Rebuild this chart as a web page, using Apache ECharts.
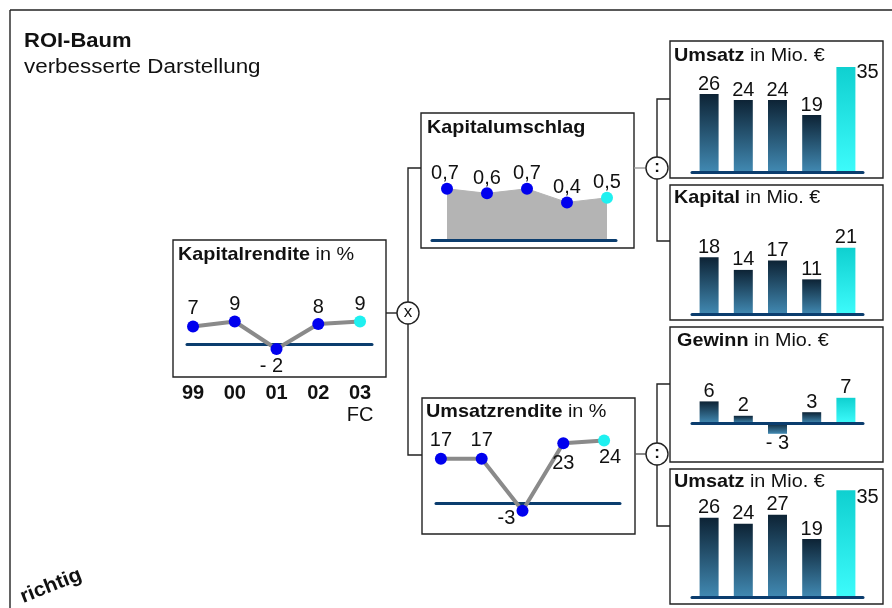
<!DOCTYPE html>
<html>
<head>
<meta charset="utf-8">
<script src="https://cdn.jsdelivr.net/npm/echarts@6/dist/echarts.min.js"></script>
<style>html,body{margin:0;padding:0;background:#fff}#c{width:892px;height:608px}</style>
</head>
<body>
<div id="c"></div>
<script>
// ---------- data ----------
const years = ['99', '00', '01', '02', '03'];
const forecastTag = 'FC';
const kapitalrendite = [7, 9, -2, 8, 9];
const kapitalumschlag = [0.7, 0.6, 0.7, 0.4, 0.5];
const umsatzrendite = [17, 17, -3, 23, 24];
const umsatzTop = [26, 24, 24, 19, 35];
const kapital = [18, 14, 17, 11, 21];
const gewinn = [6, 2, -3, 3, 7];
const umsatzBottom = [26, 24, 27, 19, 35];

// ---------- styles ----------
const FONT = "'Liberation Sans', Arial, sans-serif";
const LBL = 20;
const BLUE = '#0000ee', CYAN = '#1ff0f0';
const AXIS_BLUE = '#0b3d6e';
const last = years.length - 1;
const barGrad = () => new echarts.graphic.LinearGradient(0, 0, 0, 1, [{offset: 0, color: '#0d2335'}, {offset: 1, color: '#4189b2'}]);
const fcGrad = () => new echarts.graphic.LinearGradient(0, 0, 0, 1, [{offset: 0, color: '#0fd0d0'}, {offset: 1, color: '#3dfbfb'}]);

const krOffsets = [[0, -18], [0, -17], [-5, 17], [0, -17], [0, -17]];
const kuOffsets = [[-2, -15], [0, -15], [0, -15], [0, -15], [0, -15]];
const urOffsets = [[0, -18], [0, -18], [-16, 8], [0, 20], [6, 17]];

const signFmt = v => (v < 0 ? '- ' + Math.abs(v) : String(v));

function lineData(vals, offsets, fmt) {
  return vals.map((v, i) => ({
    value: [i, v],
    itemStyle: {color: i === last ? CYAN : BLUE},
    label: {offset: offsets[i], formatter: () => fmt(v)}
  }));
}
function barData(vals, fmt) {
  return vals.map((v, i) => {
    const lab = {formatter: () => fmt(v), position: v < 0 ? 'bottom' : 'top'};
    return {value: v, itemStyle: {color: i === last ? fcGrad() : barGrad()}, label: lab};
  });
}

const lineLabel = {show: true, position: 'inside', color: '#111', fontSize: LBL, fontFamily: FONT};
const barLabel = {show: true, color: '#111', fontSize: LBL, fontFamily: FONT, distance: 0};

function valueX(gi, min, max, extra) {
  return Object.assign({
    type: 'value', gridIndex: gi, min: min, max: max,
    axisLine: {show: true, onZero: true, lineStyle: {color: AXIS_BLUE, width: 3}},
    axisTick: {show: false}, axisLabel: {show: false}, splitLine: {show: false}
  }, extra || {});
}
function catX(gi) {
  return {
    type: 'category', gridIndex: gi, data: years, boundaryGap: true,
    axisLine: {show: true, onZero: true, lineStyle: {color: AXIS_BLUE, width: 3}},
    axisTick: {show: false}, axisLabel: {show: false}, splitLine: {show: false}, z: 3
  };
}
function valY(gi, min, max) {
  return {type: 'value', gridIndex: gi, min: min, max: max, show: false, splitLine: {show: false}};
}

// ---------- decorations ----------
const STROKE = '#222';
function rect(x, y, w, h) {
  return {type: 'rect', silent: true, shape: {x: x, y: y, width: w, height: h}, style: {fill: 'none', stroke: STROKE, lineWidth: 1.4}};
}
function seg(x1, y1, x2, y2, color) {
  return {type: 'line', silent: true, shape: {x1: x1, y1: y1, x2: x2, y2: y2}, style: {stroke: color || STROKE, lineWidth: 1.4}};
}
function poly(points, color) {
  return {type: 'polyline', silent: true, shape: {points: points}, style: {stroke: color || STROKE, lineWidth: 1.4, fill: 'none'}};
}
function op(cx, cy, sym, weight) {
  return [
    {type: 'circle', silent: true, z: 10, shape: {cx: cx, cy: cy, r: 11}, style: {fill: '#fff', stroke: STROKE, lineWidth: 1.4}},
    {type: 'text', silent: true, z: 11, x: cx, y: cy - 1, style: {text: sym, font: weight + ' 17px ' + FONT, fill: '#111', align: 'center', verticalAlign: 'middle'}}
  ];
}
function title(x, y, bold, rest, size, sx) {
  return {
    type: 'text', silent: true, x: x, y: y, scaleX: sx,
    style: {
      text: '{b|' + bold + '}' + (rest ? '{r|' + rest + '}' : ''),
      verticalAlign: 'middle', align: 'left',
      rich: {
        b: {fontWeight: 'bold', fontSize: size, fontFamily: FONT, fill: '#111'},
        r: {fontWeight: 'normal', fontSize: size, fontFamily: FONT, fill: '#111'}
      }
    }
  };
}

const graphics = [
  seg(10, 10, 892, 10), seg(10, 10, 10, 608),
  title(24, 41, 'ROI-Baum', '', 20, 1.1),
  {type: 'text', silent: true, x: 24, y: 67, scaleX: 1.12, style: {text: 'verbesserte Darstellung', font: '20px ' + FONT, fill: '#111', verticalAlign: 'middle'}},
  {type: 'text', silent: true, x: 51, y: 586, rotation: 0.38, scaleX: 1.05, style: {text: 'richtig', font: 'bold 20px ' + FONT, fill: '#111', align: 'center', verticalAlign: 'middle'}},
  // panels
  rect(173, 240, 213, 137),
  rect(421, 113, 213, 135),
  rect(422, 398, 213, 136),
  rect(670, 41, 213, 137),
  rect(670, 185, 213, 135),
  rect(670, 327, 213, 135),
  rect(670, 469, 213, 135),
  title(178, 255, 'Kapitalrendite', ' in %', 18.5, 1.07),
  title(427, 128, 'Kapitalumschlag', '', 18.5, 1.07),
  title(426, 412, 'Umsatzrendite', ' in %', 18.5, 1.07),
  title(674, 56, 'Umsatz', ' in Mio. \u20ac', 18.5, 1.07),
  title(674, 198, 'Kapital', ' in Mio. \u20ac', 18.5, 1.07),
  title(677, 341, 'Gewinn', ' in Mio. \u20ac', 18.5, 1.07),
  title(674, 482, 'Umsatz', ' in Mio. \u20ac', 18.5, 1.07),
  // connectors
  seg(386, 313, 398, 313),
  poly([[421, 168], [408, 168], [408, 455], [422, 455]]),
  seg(634, 168, 647, 168, '#999'),
  poly([[670, 99], [657, 99], [657, 241], [670, 241]]),
  seg(635, 454, 647, 454, '#555'),
  poly([[670, 384], [657, 384], [657, 526], [670, 526]])
].concat(op(408, 313, 'x', 'normal'), op(657, 168, ':', 'bold'), op(657, 454, ':', 'bold'));

const option = {
  animation: false,
  backgroundColor: '#fff',
  textStyle: {fontFamily: FONT},
  graphic: graphics,
  grid: [
    {left: 187, top: 319, width: 185, height: 35},
    {left: 432, top: 175.2, width: 184, height: 64.8},
    {left: 436, top: 438, width: 184, height: 78},
    {left: 692, top: 52, width: 171, height: 120},
    {left: 692, top: 235.25, width: 171, height: 78.75},
    {left: 692, top: 387, width: 171, height: 54},
    {left: 692, top: 475, width: 171, height: 122}
  ],
  xAxis: [
    valueX(0, -0.144, 4.287, {
      axisLabel: {
        show: true, margin: 28, customValues: [0, 1, 2, 3, 4],
        formatter: v => (v === last ? '{b|' + years[v] + '}\n{r|' + forecastTag + '}' : '{b|' + years[v] + '}'),
        rich: {
          b: {fontWeight: 'bold', fontSize: LBL, fontFamily: FONT, color: '#111', lineHeight: 22},
          r: {fontWeight: 'normal', fontSize: LBL, fontFamily: FONT, color: '#111', lineHeight: 22}
        }
      }
    }),
    valueX(1, -0.375, 4.225, {z: 5, axisLine: {show: true, onZero: false, lineStyle: {color: AXIS_BLUE, width: 3}}}),
    valueX(2, -0.12, 4.39),
    catX(3), catX(4), catX(5), catX(6)
  ],
  yAxis: [
    valY(0, -4, 10), valY(1, -0.43, 1), valY(2, -5, 25),
    valY(3, 0, 40), valY(4, 0, 25), valY(5, -5, 10), valY(6, 0, 40)
  ],
  series: [
    {
      type: 'line', xAxisIndex: 0, yAxisIndex: 0, symbol: 'circle', symbolSize: 12,
      lineStyle: {color: '#8a8a8a', width: 4}, label: lineLabel,
      data: lineData(kapitalrendite, krOffsets, signFmt)
    },
    {
      type: 'line', xAxisIndex: 1, yAxisIndex: 1, symbol: 'circle', symbolSize: 12,
      lineStyle: {color: '#b4b4b4', width: 1}, areaStyle: {color: '#b4b4b4', opacity: 1, origin: 'start'},
      label: lineLabel,
      data: lineData(kapitalumschlag, kuOffsets, v => v.toFixed(1).replace('.', ','))
    },
    {
      type: 'line', xAxisIndex: 2, yAxisIndex: 2, symbol: 'circle', symbolSize: 12,
      lineStyle: {color: '#8a8a8a', width: 4}, label: lineLabel,
      data: lineData(umsatzrendite, urOffsets, v => String(v))
    },
    {
      type: 'bar', xAxisIndex: 3, yAxisIndex: 3, barWidth: 19, label: barLabel,
      data: barData(umsatzTop, v => String(v)).map((d, i) => (i === last ? Object.assign(d, {label: Object.assign(d.label, {position: [20, -5]})}) : d))
    },
    {
      type: 'bar', xAxisIndex: 4, yAxisIndex: 4, barWidth: 19, label: barLabel,
      data: barData(kapital, v => String(v))
    },
    {
      type: 'bar', xAxisIndex: 5, yAxisIndex: 5, barWidth: 19, label: barLabel,
      data: barData(gewinn, signFmt)
    },
    {
      type: 'bar', xAxisIndex: 6, yAxisIndex: 6, barWidth: 19, label: barLabel,
      data: barData(umsatzBottom, v => String(v)).map((d, i) => (i === last ? Object.assign(d, {label: Object.assign(d.label, {position: [20, -3]})}) : d))
    }
  ]
};

const chart = echarts.init(document.getElementById('c'));
chart.setOption(option);
</script>
</body>
</html>
